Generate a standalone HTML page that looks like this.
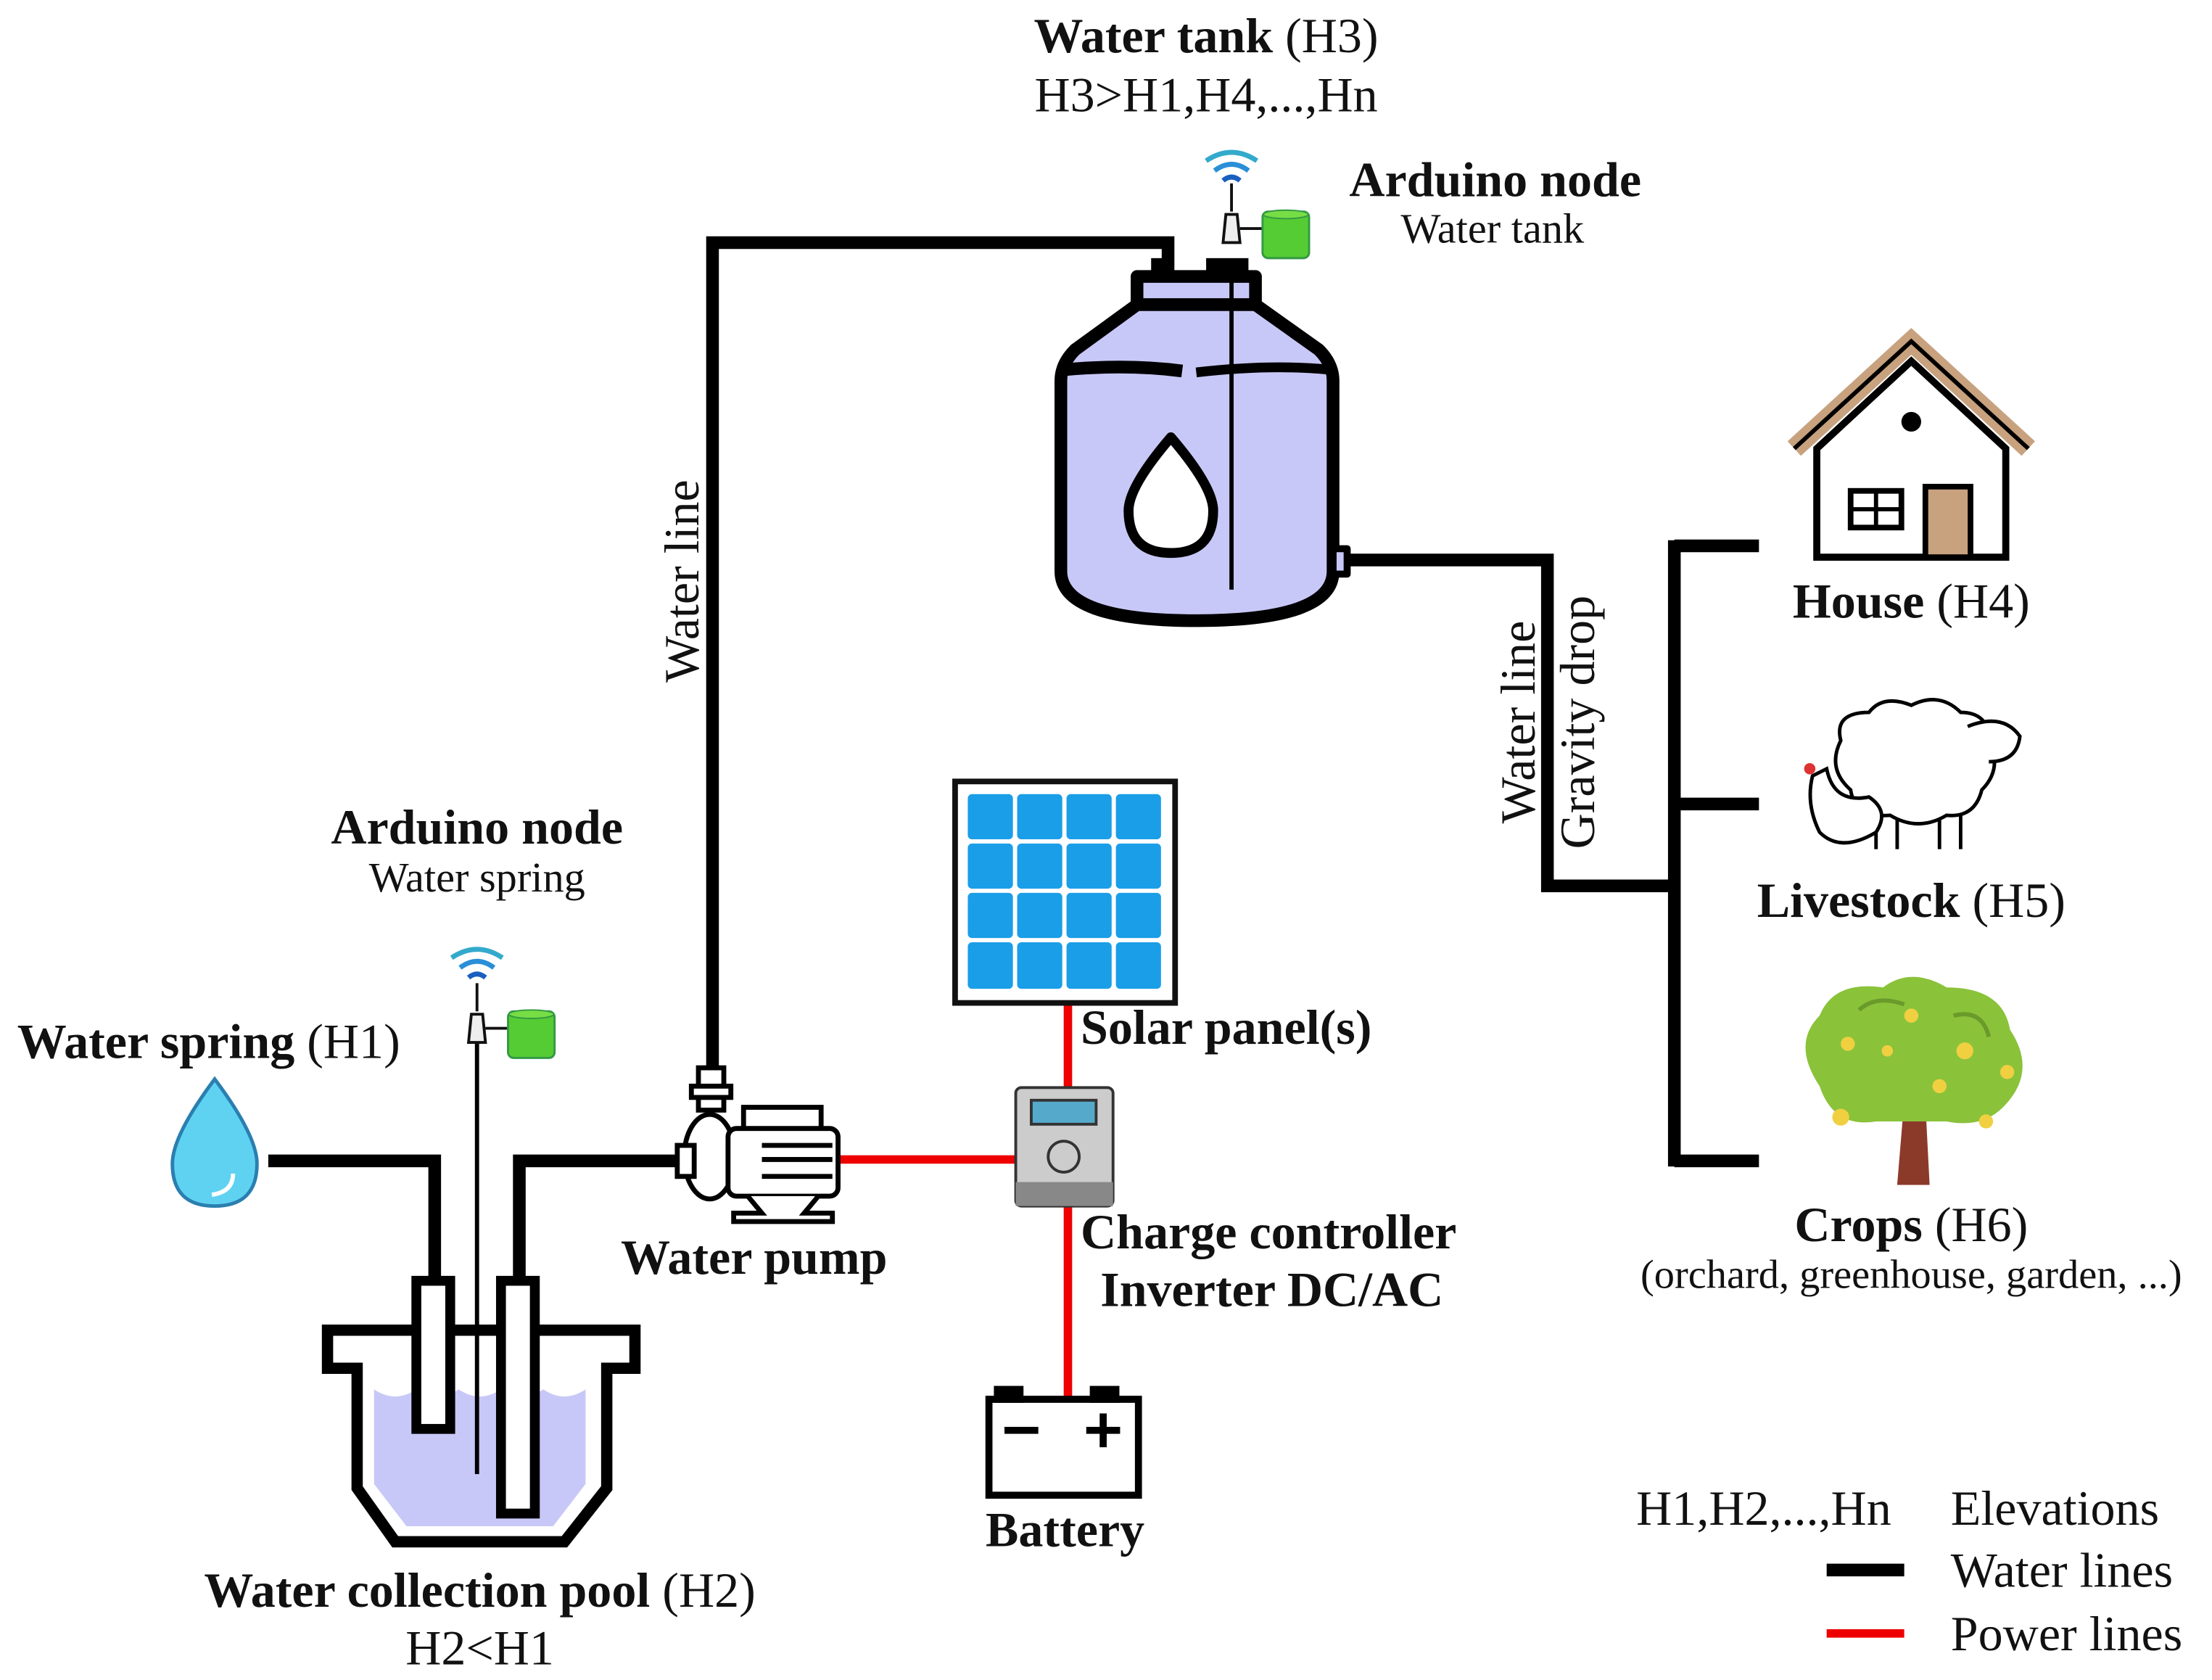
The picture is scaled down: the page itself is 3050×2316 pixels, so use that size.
<!DOCTYPE html>
<html><head><meta charset="utf-8"><style>
html,body{margin:0;padding:0;background:#fff}
svg{display:block}
text{font-family:"Liberation Serif",serif;fill:#111}
.b{font-weight:bold}
</style></head><body>
<svg width="3050" height="2316" viewBox="0 0 1568 1191" xmlns="http://www.w3.org/2000/svg">
<defs>
<g id="wifi">
 <path d="M-18,-14 Q0,-26 18,-14" stroke="#3ac" stroke-width="3.5" fill="none"/>
 <path d="M-12,-7 Q0,-16 12,-7" stroke="#2a8fd8" stroke-width="3.5" fill="none"/>
 <path d="M-6,0 Q0,-5 6,0" stroke="#1a5fc0" stroke-width="3.5" fill="none"/>
</g>
<g id="node">
 <line x1="0" y1="0" x2="0" y2="20" stroke="#111" stroke-width="2"/>
 <path d="M-4,22 L4,22 L6,42 L-6,42 Z" fill="#eee" stroke="#111" stroke-width="2"/>
 <line x1="6" y1="32" x2="22" y2="32" stroke="#111" stroke-width="2"/>
 <rect x="22" y="20" width="33" height="33" rx="4" fill="#5c3" stroke="#394" stroke-width="1.5"/>
 <ellipse cx="38.5" cy="22" rx="16" ry="3" fill="#7d4" stroke="#394" stroke-width="1"/>
</g>
</defs>

<g stroke="#000" stroke-width="9" fill="none" stroke-linejoin="miter">
 <polyline points="505,762 505,172 828,172 828,192"/>
 <polyline points="948,397 1097,397 1097,628 1187,628"/>
 <line x1="1187" y1="383" x2="1187" y2="827"/>
 <line x1="1187" y1="387" x2="1247" y2="387"/>
 <line x1="1187" y1="570" x2="1247" y2="570"/>
 <line x1="1187" y1="823" x2="1247" y2="823"/>
 <polyline points="190,823 308,823 308,910"/>
 <polyline points="482,823 368,823 368,910"/>
 <line x1="1295" y1="1113" x2="1350" y2="1113"/>
</g>
<g stroke="#e00" stroke-width="6" fill="none">
 <line x1="757" y1="711" x2="757" y2="772"/>
 <line x1="593" y1="822" x2="722" y2="822"/>
 <line x1="757" y1="854" x2="757" y2="992"/>
 <line x1="1295" y1="1158" x2="1350" y2="1158"/>
</g>

<!-- water tank -->
<g stroke="#000" stroke-width="9" stroke-linejoin="round">
 <rect x="806" y="196" width="84" height="20" fill="#c8c8f8"/>
 <path d="M806,216 L890,216 L935,248 Q945,258 945,270 L945,405 Q945,440 848,440 Q752,440 752,405 L752,270 Q752,258 762,248 Z" fill="#c8c8f8"/>
 <path d="M755,262 Q800,258 838,263" fill="none"/>
 <path d="M848,264 Q900,258 942,262" fill="none" stroke-width="7"/>
 <path d="M830,310 Q800,345 800,362 Q800,392 830,392 Q860,392 860,362 Q860,345 830,310 Z" fill="#fff" stroke-width="7"/>
 <rect x="945" y="389" width="10" height="18" fill="#c8c8f8" stroke-width="5"/>
</g>
<rect x="816" y="183" width="14" height="10" fill="#000"/><rect x="855" y="183" width="30" height="10" fill="#000"/>
<line x1="873" y1="185" x2="873" y2="418" stroke="#000" stroke-width="3"/>
<use href="#wifi" x="873" y="128"/>
<use href="#node" x="873" y="130"/>

<!-- pool -->
<path d="M232,943 L450,943 L450,970 L430,970 L430,1055 L400,1093 L280,1093 L253,1055 L253,970 L232,970 Z" fill="#fff" stroke="#000" stroke-width="8" stroke-linejoin="miter"/>
<path d="M265,985 Q280,995 295,985 Q310,995 325,985 Q340,995 355,985 Q370,995 385,985 Q400,995 415,985 L415,1052 L392,1082 L288,1082 L265,1052 Z" fill="#c8c8f8"/>
<g stroke="#000" stroke-width="7" fill="#fff">
 <rect x="295" y="908" width="24" height="105"/>
 <rect x="355" y="908" width="24" height="165"/>
</g>
<line x1="338" y1="730" x2="338" y2="1045" stroke="#000" stroke-width="3"/>
<use href="#wifi" x="338" y="693"/>
<use href="#node" x="338" y="697"/>

<!-- spring drop -->
<path d="M152,765 Q122,805 122,825 Q122,855 152,855 Q182,855 182,825 Q182,805 152,765 Z" fill="#5fd2f2" stroke="#2a7fb0" stroke-width="2.5"/>
<path d="M165,832 Q165,845 150,847" stroke="#fff" stroke-width="3" fill="none"/>

<!-- pump -->
<g stroke="#000" stroke-width="3.5" fill="#fff">
 <rect x="495" y="757" width="18" height="30"/>
 <rect x="490" y="770" width="28" height="8"/>
 <ellipse cx="503" cy="820" rx="18" ry="30"/>
 <rect x="480" y="812" width="12" height="22"/>
 <rect x="527" y="785" width="55" height="18"/>
 <rect x="516" y="800" width="78" height="48" rx="6"/>
 <line x1="540" y1="812" x2="590" y2="812"/><line x1="540" y1="822" x2="590" y2="822"/><line x1="540" y1="834" x2="590" y2="834"/>
 <path d="M530,848 L540,860 L520,860 L520,866 L590,866 L590,860 L570,860 L580,848"/>
</g>

<!-- solar panel -->
<rect x="677" y="554" width="156" height="157" fill="#fff" stroke="#111" stroke-width="4"/>
<g fill="#1a9ee8">
 <rect x="686" y="563" width="32" height="32" rx="3"/><rect x="721" y="563" width="32" height="32" rx="3"/><rect x="756" y="563" width="32" height="32" rx="3"/><rect x="791" y="563" width="32" height="32" rx="3"/>
 <rect x="686" y="598" width="32" height="32" rx="3"/><rect x="721" y="598" width="32" height="32" rx="3"/><rect x="756" y="598" width="32" height="32" rx="3"/><rect x="791" y="598" width="32" height="32" rx="3"/>
 <rect x="686" y="633" width="32" height="32" rx="3"/><rect x="721" y="633" width="32" height="32" rx="3"/><rect x="756" y="633" width="32" height="32" rx="3"/><rect x="791" y="633" width="32" height="32" rx="3"/>
 <rect x="686" y="668" width="32" height="33" rx="3"/><rect x="721" y="668" width="32" height="33" rx="3"/><rect x="756" y="668" width="32" height="33" rx="3"/><rect x="791" y="668" width="32" height="33" rx="3"/>
</g>

<!-- charge controller -->
<rect x="720" y="771" width="69" height="84" rx="4" fill="#ccc" stroke="#333" stroke-width="2"/>
<rect x="720" y="838" width="69" height="17" fill="#888"/>
<rect x="731" y="780" width="46" height="17" fill="#5ac" stroke="#333" stroke-width="2"/>
<circle cx="754" cy="820" r="11" fill="none" stroke="#333" stroke-width="2"/>

<!-- battery -->
<g stroke="#000" stroke-width="5" fill="#fff">
 <rect x="701" y="992" width="106" height="68"/>
 <rect x="707" y="985" width="16" height="7" fill="#000"/><rect x="775" y="985" width="16" height="7" fill="#000"/>
</g>
<line x1="712" y1="1014" x2="736" y2="1014" stroke="#000" stroke-width="5"/>
<line x1="770" y1="1014" x2="794" y2="1014" stroke="#000" stroke-width="5"/><line x1="782" y1="1002" x2="782" y2="1026" stroke="#000" stroke-width="5"/>

<!-- house -->
<g stroke="#000" stroke-width="5">
 <path d="M1288,318 L1355,256 L1422,318 L1422,395 L1288,395 Z" fill="#fff"/>
 <path d="M1272,318 L1355,242 L1438,318" fill="none" stroke="#c8a27e" stroke-width="14"/>
 <path d="M1272,318 L1355,242 L1438,318" fill="none" stroke="#000" stroke-width="3"/>
 <rect x="1365" y="345" width="32" height="50" fill="#c8a27e" stroke-width="4"/>
 <rect x="1312" y="348" width="36" height="26" fill="#fff" stroke-width="4"/>
 <line x1="1330" y1="348" x2="1330" y2="374" stroke-width="3"/><line x1="1312" y1="361" x2="1348" y2="361" stroke-width="3"/>
</g>
<circle cx="1355" cy="299" r="7" fill="#000"/>

<!-- livestock -->
<g stroke="#000" stroke-width="2.5" fill="#fff">
 <path d="M1305,525 Q1300,505 1325,505 Q1335,492 1355,500 Q1375,490 1390,505 Q1410,505 1410,525 Q1420,545 1405,560 Q1400,580 1380,578 Q1360,590 1340,578 Q1315,580 1312,560 Q1295,545 1305,525 Z"/>
 <path d="M1395,515 Q1420,505 1432,522 Q1430,540 1410,540"/>
 <line x1="1330" y1="578" x2="1330" y2="602"/><line x1="1345" y1="580" x2="1345" y2="602"/><line x1="1375" y1="580" x2="1375" y2="602"/><line x1="1390" y1="578" x2="1390" y2="602"/>
 <path d="M1285,550 Q1280,570 1290,590 Q1305,605 1330,590 Q1340,575 1325,565 Q1300,570 1295,545 Z"/>
</g>
<circle cx="1283" cy="545" r="4" fill="#d33"/>

<!-- tree -->
<path d="M1345,840 L1350,780 L1325,760 L1335,757 L1352,770 L1355,745 L1362,745 L1362,770 L1385,752 L1390,758 L1365,782 L1368,840 Z" fill="#8b3a2a"/>
<path d="M1290,770 Q1270,740 1290,720 Q1300,695 1335,700 Q1355,685 1380,700 Q1420,700 1425,730 Q1445,760 1420,785 Q1405,800 1380,795 L1330,795 Q1300,800 1290,770 Z" fill="#8ac23a"/>
<path d="M1318,716 Q1330,705 1350,712 M1385,720 Q1405,715 1410,735" stroke="#6a9a2a" stroke-width="3" fill="none"/>
<g fill="#f0d040"><circle cx="1355" cy="720" r="5"/><circle cx="1393" cy="745" r="6"/><circle cx="1310" cy="740" r="5"/><circle cx="1375" cy="770" r="5"/><circle cx="1408" cy="795" r="5"/><circle cx="1305" cy="792" r="6"/><circle cx="1423" cy="760" r="5"/><circle cx="1338" cy="745" r="4"/></g>

<!-- labels -->
<text x="855" y="37" text-anchor="middle" font-size="35"><tspan class="b">Water tank</tspan> (H3)</text>
<text x="855" y="79" text-anchor="middle" font-size="35">H3&gt;H1,H4,...,Hn</text>
<text x="1060" y="139" text-anchor="middle" font-size="35" class="b">Arduino node</text>
<text x="1058" y="172" text-anchor="middle" font-size="30">Water tank</text>
<text transform="translate(495,412) rotate(-90)" text-anchor="middle" font-size="35">Water line</text>
<text transform="translate(1088,512) rotate(-90)" text-anchor="middle" font-size="35">Water line</text>
<text transform="translate(1130,512) rotate(-90)" text-anchor="middle" font-size="35">Gravity drop</text>
<text x="1355" y="438" text-anchor="middle" font-size="35"><tspan class="b">House</tspan> (H4)</text>
<text x="1355" y="650" text-anchor="middle" font-size="35"><tspan class="b">Livestock</tspan> (H5)</text>
<text x="1355" y="880" text-anchor="middle" font-size="35"><tspan class="b">Crops</tspan> (H6)</text>
<text x="1355" y="913" text-anchor="middle" font-size="29">(orchard, greenhouse, garden, ...)</text>
<text x="338" y="598" text-anchor="middle" font-size="35" class="b">Arduino node</text>
<text x="338" y="632" text-anchor="middle" font-size="30">Water spring</text>
<text x="12" y="750" font-size="35"><tspan class="b">Water spring</tspan> (H1)</text>
<text x="766" y="740" font-size="35" class="b">Solar panel(s)</text>
<text x="440" y="903" font-size="35" class="b">Water pump</text>
<text x="766" y="885" font-size="35" class="b">Charge controller</text>
<text x="780" y="926" font-size="35" class="b">Inverter DC/AC</text>
<text x="755" y="1096" text-anchor="middle" font-size="35" class="b">Battery</text>
<text x="340" y="1139" text-anchor="middle" font-size="35"><tspan class="b">Water collection pool</tspan> (H2)</text>
<text x="340" y="1180" text-anchor="middle" font-size="35">H2&lt;H1</text>
<text x="1160" y="1081" font-size="35">H1,H2,...,Hn</text>
<text x="1383" y="1081" font-size="35">Elevations</text>
<text x="1383" y="1125" font-size="35">Water lines</text>
<text x="1383" y="1170" font-size="35">Power lines</text>
</svg>
</body></html>
